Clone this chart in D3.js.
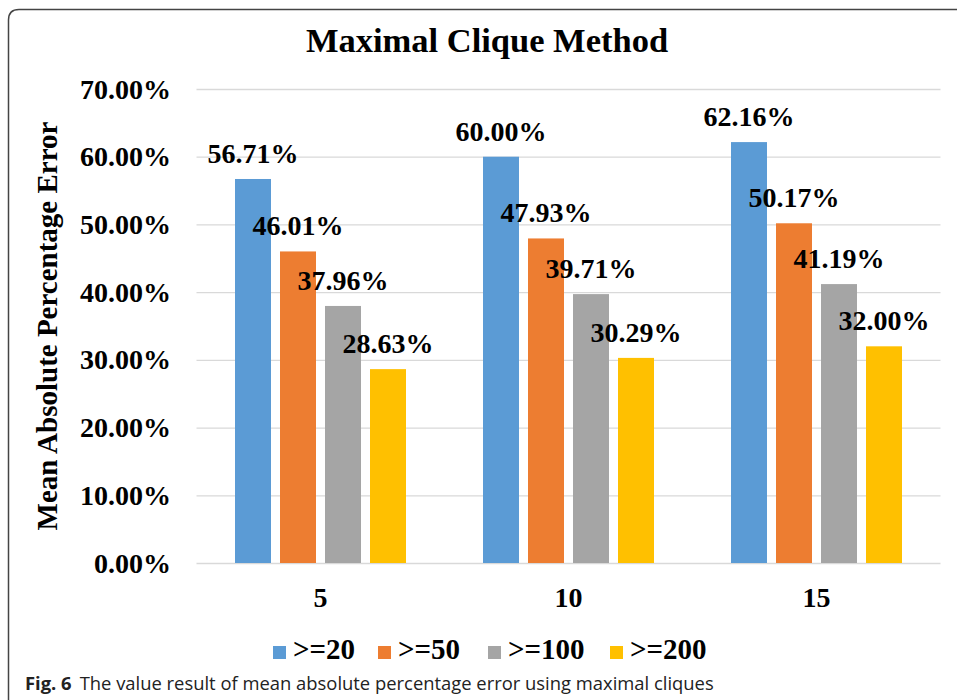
<!DOCTYPE html>
<html>
<head>
<meta charset="utf-8">
<script src="https://cdn.jsdelivr.net/npm/d3@7"></script>
<style>
  body { margin: 0; background: #fff; }
  svg text { font-family: "Liberation Serif", "Times New Roman", serif; font-weight: bold; fill: #000; }
</style>
</head>
<body>
<div id="chart"></div>
<script>
// chart data
var categories = ["5", "10", "15"];
var seriesNames = [">=20", ">=50", ">=100", ">=200"];
var seriesColors = ["#5B9BD5", "#ED7D31", "#A5A5A5", "#FFC000"];
var values20 = [56.71, 60.00, 62.16];
var values50 = [46.01, 47.93, 50.17];
var values100 = [37.96, 39.71, 41.19];
var values200 = [28.63, 30.29, 32.00];
var yTicks = [0, 10, 20, 30, 40, 50, 60, 70];

var W = 957, H = 700;
var plotLeft = 196.5, plotRight = 940.5, plotTop = 89, plotBottom = 563;

var svg = d3.select("#chart").append("svg").attr("width", W).attr("height", H);

// frame around figure
svg.append("path")
  .attr("d", "M" + (W + 5) + ",9.5 L19,9.5 Q8.5,9.5 8.5,20 L8.5," + (H + 5))
  .attr("fill", "none").attr("stroke", "#444").attr("stroke-width", 1.5);

var ys = d3.scaleLinear().domain([0, 70]).range([plotBottom, plotTop]);
var xs = d3.scaleBand().domain(categories).range([plotLeft, plotRight]);
var xInner = d3.scaleBand().domain(seriesNames).range([0, 171]).paddingInner(0.2);

// gridlines
svg.append("g").selectAll("line").data(yTicks).enter().append("line")
  .attr("x1", plotLeft).attr("x2", plotRight)
  .attr("y1", d => ys(d) + 0.5).attr("y2", d => ys(d) + 0.5)
  .attr("stroke", "#d9d9d9").attr("stroke-width", 1.3);

// y tick labels
svg.append("g").selectAll("text").data(yTicks).enter().append("text")
  .attr("x", 171).attr("y", d => ys(d) + 9.5)
  .attr("text-anchor", "end").style("font-size", "28px")
  .text(d => d3.format(".2f")(d) + "%");

// y axis title
svg.append("text")
  .attr("transform", "translate(57,326) rotate(-90)")
  .attr("text-anchor", "middle").style("font-size", "29px")
  .text("Mean Absolute Percentage Error");

// title
svg.append("text")
  .attr("x", 487).attr("y", 52).attr("text-anchor", "middle")
  .style("font-size", "34.5px").text("Maximal Clique Method");

var allSeries = [values20, values50, values100, values200];
var rows = [];
allSeries.forEach(function (vals, s) {
  vals.forEach(function (v, i) {
    rows.push({ cat: categories[i], series: seriesNames[s], color: seriesColors[s], value: v });
  });
});

var groups = svg.append("g");
groups.selectAll("rect").data(rows).enter().append("rect")
  .attr("x", d => xs(d.cat) + (xs.bandwidth() - 171) / 2 + xInner(d.series))
  .attr("width", xInner.bandwidth())
  .attr("y", d => ys(d.value))
  .attr("height", d => plotBottom - ys(d.value))
  .attr("fill", d => d.color);

groups.selectAll(".lbl").data(rows).enter().append("text")
  .attr("class", "lbl")
  .attr("x", d => xs(d.cat) + (xs.bandwidth() - 171) / 2 + xInner(d.series) + xInner.bandwidth() / 2)
  .attr("y", d => ys(d.value) - 16)
  .attr("text-anchor", "middle").style("font-size", "28px")
  .text(d => d3.format(".2f")(d.value) + "%");

// x tick labels
svg.append("g").selectAll("text").data(categories).enter().append("text")
  .attr("x", d => xs(d) + xs.bandwidth() / 2).attr("y", 607)
  .attr("text-anchor", "middle").style("font-size", "28px")
  .text(d => d);

// legend
var legendX = [273, 378, 488, 610];
var legend = svg.append("g").selectAll("g").data(seriesNames).enter().append("g")
  .attr("transform", (d, i) => "translate(" + legendX[i] + ",646)");
legend.append("rect").attr("width", 13).attr("height", 13).attr("fill", (d, i) => seriesColors[i]);
legend.append("text").attr("x", 20).attr("y", 13).style("font-size", "29px").text(d => d);

// caption
var cap = svg.append("text").attr("x", 25).attr("y", 690)
  .style("font-family", "'Open Sans', 'Noto Sans', sans-serif").style("font-size", "18.4px").style("font-weight", "normal").style("fill", "#222");
cap.append("tspan").style("font-weight", "bold").text("Fig. 6");
cap.append("tspan").attr("dx", 8).text("The value result of mean absolute percentage error using maximal cliques");
</script>
</body>
</html>
